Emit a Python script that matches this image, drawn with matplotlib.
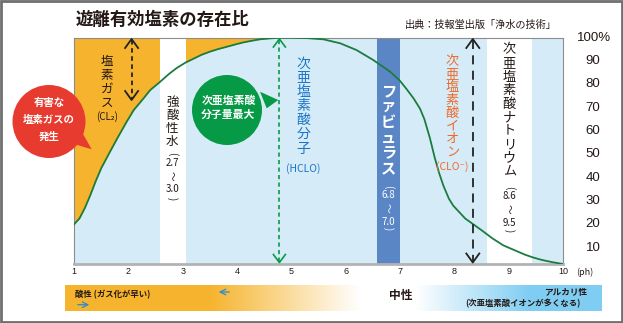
import numpy as np
import matplotlib
matplotlib.use("Agg")
import matplotlib.pyplot as plt
from matplotlib.patches import Circle, Polygon, Rectangle
from matplotlib.transforms import blended_transform_factory

plt.rcParams['font.family'] = ['Noto Sans CJK JP', 'DejaVu Sans']

# --- data ---
ph = [1.0, 1.1, 1.2, 1.3, 1.4, 1.5, 1.66, 1.8, 1.97, 2.1, 2.28, 2.4, 2.58, 2.75,
      2.89, 3.05, 3.2, 3.35, 3.5, 3.65, 3.81, 4.0, 4.12, 4.3, 4.42, 4.6, 4.8,
      5.0, 5.3, 5.59, 5.9, 6.2, 6.51, 6.82, 7.0, 7.12, 7.25, 7.37, 7.45, 7.55,
      7.64, 7.72, 7.8, 7.9, 7.98, 8.1, 8.2, 8.35, 8.5, 8.7, 8.9, 9.1, 9.3,
      9.45, 9.6, 9.8, 10.0]
hclo = [20, 22.5, 27, 32.5, 38.5, 44, 51, 57, 64, 69, 74, 77.5, 81, 84.5,
        87, 89.3, 91, 92.7, 94, 95.1, 96.1, 97.3, 98, 98.8, 99.3, 99.7, 100,
        100, 99.8, 99.3, 97.6, 94.7, 90.4, 85.4, 81.5, 78, 74, 69.5, 65, 57,
        48.5, 42, 36.5, 31, 28, 25, 22.5, 20, 17.5, 14, 11, 9, 7,
        5.8, 4.8, 3.8, 3.0]
ph_ticks = list(range(1, 11))
pct_ticks = list(range(10, 101, 10))
white_bands = [(2.58, 3.06), (8.6, 9.43)]
fabulous_band = (6.57, 7.0)
gas_limit = 5.3

ORANGE = '#f6b42e'
LBLUE = '#d5ecf8'
DBLUE = '#5a86c5'
CURVE = '#1b7c3e'
GREEN = '#079a46'
RED = '#e63b2e'
TXT = '#231815'

W, H = 623, 323
AX_L, AX_R, AX_T, AX_B = 74, 563, 37.7, 264

fig = plt.figure(figsize=(W / 100, H / 100), dpi=100)
ax = fig.add_axes([AX_L / W, 1 - AX_B / H, (AX_R - AX_L) / W, (AX_B - AX_T) / H])
ax.set_xlim(1, 10)
ax.set_ylim(3, 100)
ax.set_facecolor(LBLUE)

ph_a = np.array(ph)
hclo_a = np.array(hclo)
ax.fill_between(ph_a, hclo_a, 100, where=ph_a <= gas_limit, color=ORANGE, lw=0)
for a, b in white_bands:
    ax.axvspan(a, b, color='white', lw=0)
ax.axvspan(*fabulous_band, color=DBLUE, lw=0)
ax.plot(ph_a, hclo_a, color=CURVE, lw=1.3, zorder=5)

ax.set_xticks(ph_ticks)
ax.set_xticklabels([str(t) for t in ph_ticks], fontsize=6.5, family='Liberation Sans', color=TXT)
ax.tick_params(length=0, pad=2.5)
ax.set_yticks([])
for side in ['left', 'top', 'right']:
    ax.spines[side].set_color('#8c8c8c')
    ax.spines[side].set_linewidth(0.8)
ax.spines['bottom'].set_color('#b3b3b3')
ax.spines['bottom'].set_linewidth(2)

tr = blended_transform_factory(ax.transAxes, ax.transData)
xlab = (600.5 - AX_L) / (AX_R - AX_L)
xpct = (577 - AX_L) / (AX_R - AX_L)
for v in pct_ticks:
    if v == 100:
        ax.text(xpct, v, '100%', transform=tr, ha='left', va='center',
                fontsize=9.5, family='Liberation Sans', color=TXT, clip_on=False)
    else:
        ax.text(xlab, v, str(v), transform=tr, ha='right', va='center',
                fontsize=9.5, family='Liberation Sans', color=TXT, clip_on=False)

# --- overlay in pixel coordinates for labels and callouts ---
ov = fig.add_axes([0, 0, 1, 1], zorder=10)
ov.axis('off')


def px(p):
    return AX_L + (p - 1) * (AX_R - AX_L) / 9


def dashed_arrow(x, y0, y1, color, dashes, hw, hh, lw):
    ov.plot([x, x], [y0 + 1, y1 - 1], color=color, lw=lw, dashes=dashes)
    ov.plot([x - hw, x, x + hw], [y0 + hh, y0, y0 + hh], color=color, lw=lw)
    ov.plot([x - hw, x, x + hw], [y1 - hh, y1, y1 - hh], color=color, lw=lw)


def vtext(x, y0, step, s, **kw):
    for i, ch in enumerate(s):
        ov.text(x, y0 + i * step, ch, ha='center', va='center', **kw)


def range_stack(x, ys, lo, hi, **kw):
    ov.text(x, ys[0], '(', rotation=-90, ha='center', va='center', **kw)
    ov.text(x, ys[1], lo, ha='center', va='center', **kw)
    ov.text(x, ys[2], '～', rotation=-90, ha='center', va='center', **kw)
    ov.text(x, ys[3], hi, ha='center', va='center', **kw)
    ov.text(x, ys[4], ')', rotation=-90, ha='center', va='center', **kw)


dashed_arrow(px(2.06), 39, 100, '#222222', (2.5, 2), 6.5, 9, 1.3)
dashed_arrow(px(4.78), 39, 262.5, GREEN, (2.5, 2), 6, 8, 1.2)
dashed_arrow(px(8.34), 39, 262.5, '#222222', (5, 3.5), 6.5, 9, 1.3)

# band labels
vtext(107, 62, 13.8, '塩素ガス', fontsize=9, color=TXT)
ov.text(107, 117, '(CL₂)', ha='center', va='center', fontsize=7, color=TXT)

vtext(172.3, 102.3, 12.9, '強酸性水', fontsize=9, color=TXT)
range_stack(172.3, [153.3, 163.3, 176, 189, 198.3], '2.7', '3.0', fontsize=7, color=TXT)

vtext(303.3, 63.3, 14.2, '次亜塩素酸分子', fontsize=10, color='#1a74c6')
ov.text(303.3, 169, '(HCLO)', ha='center', va='center', fontsize=7.5, color='#1a74c6')

vtext(388.3, 91.7, 15.3, 'ファビュラス', fontsize=11, color='white', fontweight='bold')
range_stack(388.3, [186.7, 195, 208, 221.7, 228.5], '6.8', '7.0', fontsize=7, color='white')

vtext(452.3, 61.7, 12.9, '次亜塩素酸イオン', fontsize=9.5, color='#ee6a2c')
ov.text(452.5, 166.7, '(CLO⁻)', ha='center', va='center', fontsize=7.5, color='#ee6a2c')

vtext(509.3, 50, 13.5, '次亜塩素酸ナトリウム', fontsize=9.5, color=TXT)
range_stack(509.3, [188, 195.7, 208.5, 223, 230.5], '8.6', '9.5', fontsize=7, color=TXT)

# callouts
ov.add_patch(Polygon([(71.7, 143.3), (81.7, 131.7), (91.7, 149.3)], color=RED, lw=0))
ov.add_patch(Circle((49, 121.5), 36.5, color=RED, lw=0))
for y, s in [(103.3, '有害な'), (120, '塩素ガスの'), (136.7, '発生')]:
    ov.text(49, y, s, ha='center', va='center', fontsize=7.5, fontweight='bold', color='white')

ov.add_patch(Polygon([(260, 91.7), (278.3, 100), (266.7, 108.3)], color=GREEN, lw=0))
ov.add_patch(Circle((227, 110), 35, color=GREEN, lw=0))
for y, s in [(100.7, '次亜塩素酸'), (115, '分子量最大')]:
    ov.text(228.5, y, s, ha='center', va='center', fontsize=7.8, fontweight='bold', color='white')

# title and source
ov.text(76, 20, '遊離有効塩素の存在比', ha='left', va='center', fontsize=12.5,
        fontweight='bold', color=TXT)
ov.text(557, 25, '出典：技報堂出版「浄水の技術」', ha='right', va='center', fontsize=7.3, color=TXT)
ov.text(576, 272, '(ph)', ha='left', va='center', fontsize=6.5, color=TXT)

# bottom gradient bar
xs = np.arange(65, 602) + 0.5
w_or = np.clip((360 - xs) / (360 - 210), 0, 1)
w_bl = np.clip((xs - 416) / (530 - 416), 0, 1)
c_or = np.array(matplotlib.colors.to_rgb(ORANGE))
c_bl = np.array(matplotlib.colors.to_rgb('#7fcdf2'))
rgb = (1 - w_or - w_bl)[:, None] * 1.0 + w_or[:, None] * c_or + w_bl[:, None] * c_bl
img = np.repeat(rgb[None, :, :], 2, axis=0)
ov.imshow(img, extent=(65, 602, 311, 285), aspect='auto', interpolation='bilinear')

ov.text(75, 295, '酸性 (ガス化が早い)', ha='left', va='center', fontsize=6,
        fontweight='bold', color=TXT)
ov.annotate('', xy=(92, 304.7), xytext=(75, 304.7),
            arrowprops=dict(arrowstyle='->', color='#2a8ad0', lw=0.9))
ov.annotate('', xy=(216, 292), xytext=(232, 292),
            arrowprops=dict(arrowstyle='->', color='#2a8ad0', lw=0.9))
ov.text(401, 295, '中性', ha='center', va='center', fontsize=8.5, fontweight='bold', color=TXT)
ov.text(587, 292.3, 'アルカリ性', ha='right', va='center', fontsize=6.2,
        fontweight='bold', color=TXT)
ov.text(581, 303.5, '(次亜塩素酸イオンが多くなる)', ha='right', va='center', fontsize=6,
        fontweight='bold', color=TXT)

ov.add_patch(Rectangle((1, 1), 621, 321, fill=False, ec='#6f6f6f', lw=2))
ov.set_xlim(0, W)
ov.set_ylim(H, 0)

fig.savefig('out.png', dpi=100)
